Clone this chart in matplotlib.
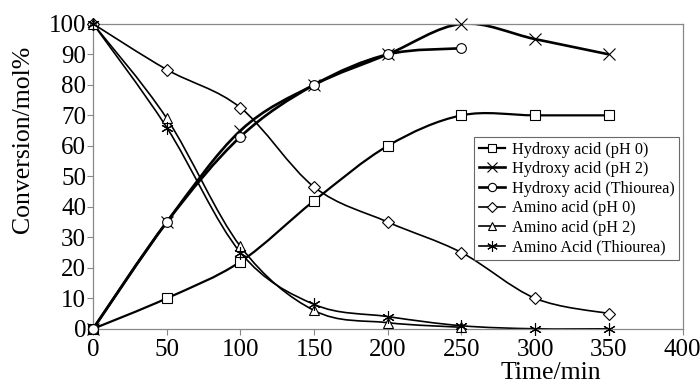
"""Conversion versus time for hydroxy and amino acids."""

import matplotlib
matplotlib.use("Agg")
import matplotlib.pyplot as plt
import numpy as np
from matplotlib.lines import Line2D
from matplotlib.patches import PathPatch
from matplotlib.path import Path

plt.rcParams["font.family"] = ["Liberation Serif", "DejaVu Serif"]

time_min = [0, 50, 100, 150, 200, 250, 300, 350]

hydroxy_ph0 = [0, 10, 22, 42, 60, 70, 70, 70]
hydroxy_ph2 = [0, 35, 65, 80, 90, 100, 95, 90]
hydroxy_thiourea = [0, 35, 63, 80, 90, 92]
amino_ph0 = [100, 85, 72.5, 46.5, 35, 25, 10, 5]
amino_ph2 = [100, 69, 27, 6, 2, 0.5]
amino_thiourea = [100, 66, 25, 8, 4, 1, 0, 0]

ASTERISK = (6, 2, 0)

series = [
    ("Hydroxy acid (pH 0)", hydroxy_ph0, "s", 1.6),
    ("Hydroxy acid (pH 2)", hydroxy_ph2, "x", 1.9),
    ("Hydroxy acid (Thiourea)", hydroxy_thiourea, "o", 1.9),
    ("Amino acid (pH 0)", amino_ph0, "D", 1.2),
    ("Amino acid (pH 2)", amino_ph2, "^", 1.2),
    ("Amino Acid (Thiourea)", amino_thiourea, ASTERISK, 1.2),
]


def smooth_path(x, y):
    """Bezier path through the points, like a spreadsheet smoothed line."""
    pts = np.column_stack([x, y]).astype(float)
    verts = [pts[0]]
    codes = [Path.MOVETO]
    n = len(pts)
    for i in range(n - 1):
        p0 = pts[max(i - 1, 0)]
        p1 = pts[i]
        p2 = pts[i + 1]
        p3 = pts[min(i + 2, n - 1)]
        c1 = p1 + (p2 - p0) / 6.0
        c2 = p2 - (p3 - p1) / 6.0
        verts += [c1, c2, p2]
        codes += [Path.CURVE4] * 3
    return Path(verts, codes)


fig, ax = plt.subplots(figsize=(7.0, 3.85), dpi=100)
fig.subplots_adjust(left=0.133, right=0.975, top=0.938, bottom=0.146)

handles = []
for label, values, marker, lw in series:
    x = time_min[: len(values)]
    ax.add_patch(PathPatch(smooth_path(x, values), facecolor="none",
                           edgecolor="black", lw=lw, zorder=2))
    if marker in ("x", ASTERISK):
        ms = 9
    elif marker == "D":
        ms = 6
    else:
        ms = 7
    ax.plot(x, values, linestyle="none", marker=marker, markersize=ms,
            markerfacecolor="white", markeredgecolor="black",
            markeredgewidth=0.8, zorder=3, clip_on=False)
    handles.append(Line2D([], [], color="black", lw=lw, marker=marker,
                          markersize=ms * 0.85, markerfacecolor="white",
                          markeredgecolor="black", markeredgewidth=0.8,
                          label=label))

ax.set_xlim(0, 400)
ax.set_ylim(0, 100)
ax.set_xticks(range(0, 401, 50))
ax.set_yticks(range(0, 101, 10))
ax.tick_params(labelsize=18, length=4, width=0.8, color="#888888")
ax.tick_params(axis="x", pad=3)
ax.tick_params(axis="y", pad=1)
for side in ("top", "right", "left", "bottom"):
    ax.spines[side].set_color("#888888")
    ax.spines[side].set_linewidth(0.9)

ax.set_ylabel("Conversion/mol%", fontsize=18.5)
ax.yaxis.set_label_coords(-0.1, 0.62)
ax.set_xlabel("Time/min", fontsize=18.5)
ax.xaxis.set_label_coords(0.776, -0.11)

leg = ax.legend(handles=handles, loc="upper left",
                bbox_to_anchor=(0.647, 0.63), borderaxespad=0,
                fontsize=11.7, frameon=True, fancybox=False,
                edgecolor="#444444", handlelength=1.6, handletextpad=0.4,
                borderpad=0.3, labelspacing=0.22)
leg.get_frame().set_linewidth(0.8)

fig.savefig("out.png", dpi=100)
plt.close(fig)
